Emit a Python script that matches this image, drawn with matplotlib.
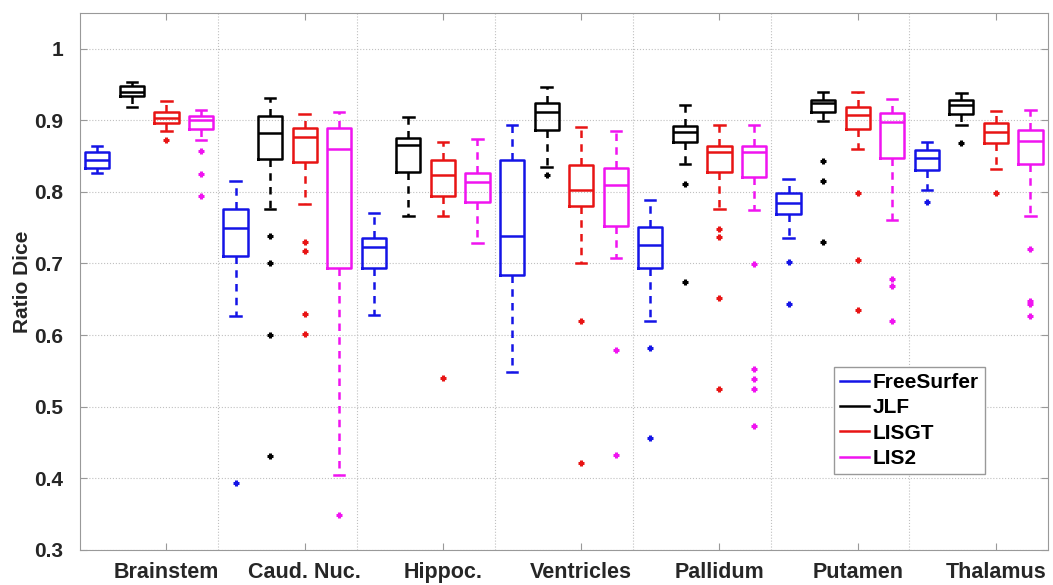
import matplotlib.pyplot as plt
from matplotlib.lines import Line2D

# Regions and methods
regions = ['Brainstem', 'Caud. Nuc.', 'Hippoc.', 'Ventricles', 'Pallidum', 'Putamen', 'Thalamus']
methods = ['FreeSurfer', 'JLF', 'LISGT', 'LIS2']
colors = ['#1414e6', '#000000', '#e81414', '#f014f0']

# Box statistics (one value per region)
fs_whishi = [0.864, 0.815, 0.770, 0.893, 0.788, 0.818, 0.870]
fs_q3 = [0.856, 0.776, 0.735, 0.845, 0.751, 0.798, 0.859]
fs_med = [0.844, 0.749, 0.723, 0.738, 0.726, 0.785, 0.847]
fs_q1 = [0.833, 0.710, 0.694, 0.684, 0.693, 0.769, 0.830]
fs_whislo = [0.826, 0.627, 0.628, 0.549, 0.619, 0.736, 0.802]
fs_fliers = [[], [0.394], [], [], [0.582, 0.456], [0.702, 0.643], [0.786]]

jlf_whishi = [0.953, 0.931, 0.904, 0.947, 0.922, 0.940, 0.938]
jlf_q3 = [0.948, 0.906, 0.875, 0.924, 0.892, 0.928, 0.928]
jlf_med = [0.940, 0.882, 0.866, 0.911, 0.884, 0.924, 0.922]
jlf_q1 = [0.934, 0.846, 0.828, 0.887, 0.870, 0.912, 0.909]
jlf_whislo = [0.919, 0.776, 0.767, 0.835, 0.839, 0.899, 0.893]
jlf_fliers = [[], [0.738, 0.700, 0.600, 0.431], [], [0.823], [0.811, 0.674],
              [0.843, 0.815, 0.730], [0.868]]

lisgt_whishi = [0.927, 0.909, 0.870, 0.890, 0.893, 0.940, 0.913]
lisgt_q3 = [0.912, 0.889, 0.845, 0.837, 0.864, 0.918, 0.896]
lisgt_med = [0.903, 0.876, 0.824, 0.802, 0.855, 0.907, 0.883]
lisgt_q1 = [0.896, 0.842, 0.794, 0.780, 0.828, 0.888, 0.868]
lisgt_whislo = [0.885, 0.783, 0.766, 0.700, 0.776, 0.860, 0.832]
lisgt_fliers = [[0.872], [0.730, 0.717, 0.630, 0.602], [0.540], [0.620, 0.422],
                [0.748, 0.737, 0.652, 0.525], [0.799, 0.705, 0.635], [0.798]]

lis2_whishi = [0.915, 0.912, 0.874, 0.885, 0.893, 0.930, 0.915]
lis2_q3 = [0.906, 0.889, 0.827, 0.834, 0.864, 0.910, 0.887]
lis2_med = [0.900, 0.860, 0.814, 0.809, 0.855, 0.898, 0.871]
lis2_q1 = [0.888, 0.693, 0.786, 0.753, 0.821, 0.848, 0.839]
lis2_whislo = [0.873, 0.404, 0.729, 0.707, 0.774, 0.761, 0.767]
lis2_fliers = [[0.857, 0.825, 0.794], [0.349], [], [0.579, 0.432],
               [0.699, 0.552, 0.538, 0.525, 0.473], [0.678, 0.668, 0.619],
               [0.720, 0.648, 0.644, 0.626]]

all_stats = [
    (fs_whishi, fs_q3, fs_med, fs_q1, fs_whislo, fs_fliers),
    (jlf_whishi, jlf_q3, jlf_med, jlf_q1, jlf_whislo, jlf_fliers),
    (lisgt_whishi, lisgt_q3, lisgt_med, lisgt_q1, lisgt_whislo, lisgt_fliers),
    (lis2_whishi, lis2_q3, lis2_med, lis2_q1, lis2_whislo, lis2_fliers),
]

font = ['Liberation Sans', 'DejaVu Sans']
text_color = '#262626'

fig, ax = plt.subplots(figsize=(10.53, 5.85), dpi=100)
fig.subplots_adjust(left=0.076, right=0.995, top=0.978, bottom=0.06)

lw = 1.8
for m, (color, stats) in enumerate(zip(colors, all_stats)):
    hi, q3, med, q1, lo, fl = stats
    boxes = []
    for r in range(len(regions)):
        boxes.append(dict(med=med[r], q1=q1[r], q3=q3[r], whislo=lo[r],
                          whishi=hi[r], fliers=fl[r]))
    positions = [4 * r + m + 1 for r in range(len(regions))]
    ax.bxp(boxes, positions=positions, widths=0.7, capwidths=0.3,
           boxprops=dict(color=color, lw=lw),
           medianprops=dict(color=color, lw=lw),
           whiskerprops=dict(color=color, lw=lw, ls=(0, (3, 2.5))),
           capprops=dict(color=color, lw=lw),
           flierprops=dict(marker='+', markeredgecolor=color, markersize=5,
                           mew=2.2, linestyle='none'),
           manage_ticks=False)

ax.set_xlim(0.5, 28.5)
ax.set_ylim(0.3, 1.05)

yt = [0.3, 0.4, 0.5, 0.6, 0.7, 0.8, 0.9, 1.0]
ax.set_yticks(yt)
ax.set_yticklabels([f'{v:g}' for v in yt], fontsize=15, fontweight='bold',
                   family=font, color=text_color)
ax.set_xticks([4 * r + 3 for r in range(len(regions))])
ax.set_xticklabels(regions, fontsize=15.5, fontweight='bold', family=font,
                   color=text_color)
ax.set_xticks([4 * r + 4.5 for r in range(len(regions) - 1)], minor=True)

ax.tick_params(which='major', direction='in', top=True, right=True, length=5,
               color='#999999')
ax.tick_params(axis='x', which='major', pad=9)
ax.tick_params(axis='y', which='major', pad=12)
ax.tick_params(which='minor', length=0)
ax.grid(axis='y', which='major', ls=':', color='#c0c0c0', lw=0.8)
ax.grid(axis='x', which='minor', ls=':', color='#c0c0c0', lw=0.8)
ax.set_axisbelow(True)
for s in ax.spines.values():
    s.set_color('#999999')

ax.set_ylabel('Ratio Dice', fontsize=15, fontweight='bold', family=font,
              color=text_color)
ax.yaxis.set_label_coords(-0.05, 0.5)

handles = [Line2D([0], [0], color=c, lw=lw) for c in colors]
leg = ax.legend(handles, methods, loc='lower left', bbox_to_anchor=(0.779, 0.141),
                fancybox=False, edgecolor='#999999', framealpha=1,
                handlelength=1.4, handletextpad=0.15, borderpad=0.3,
                labelspacing=0.3, borderaxespad=0,
                prop=dict(family=font, weight='bold', size=15))

plt.savefig('out.png')
